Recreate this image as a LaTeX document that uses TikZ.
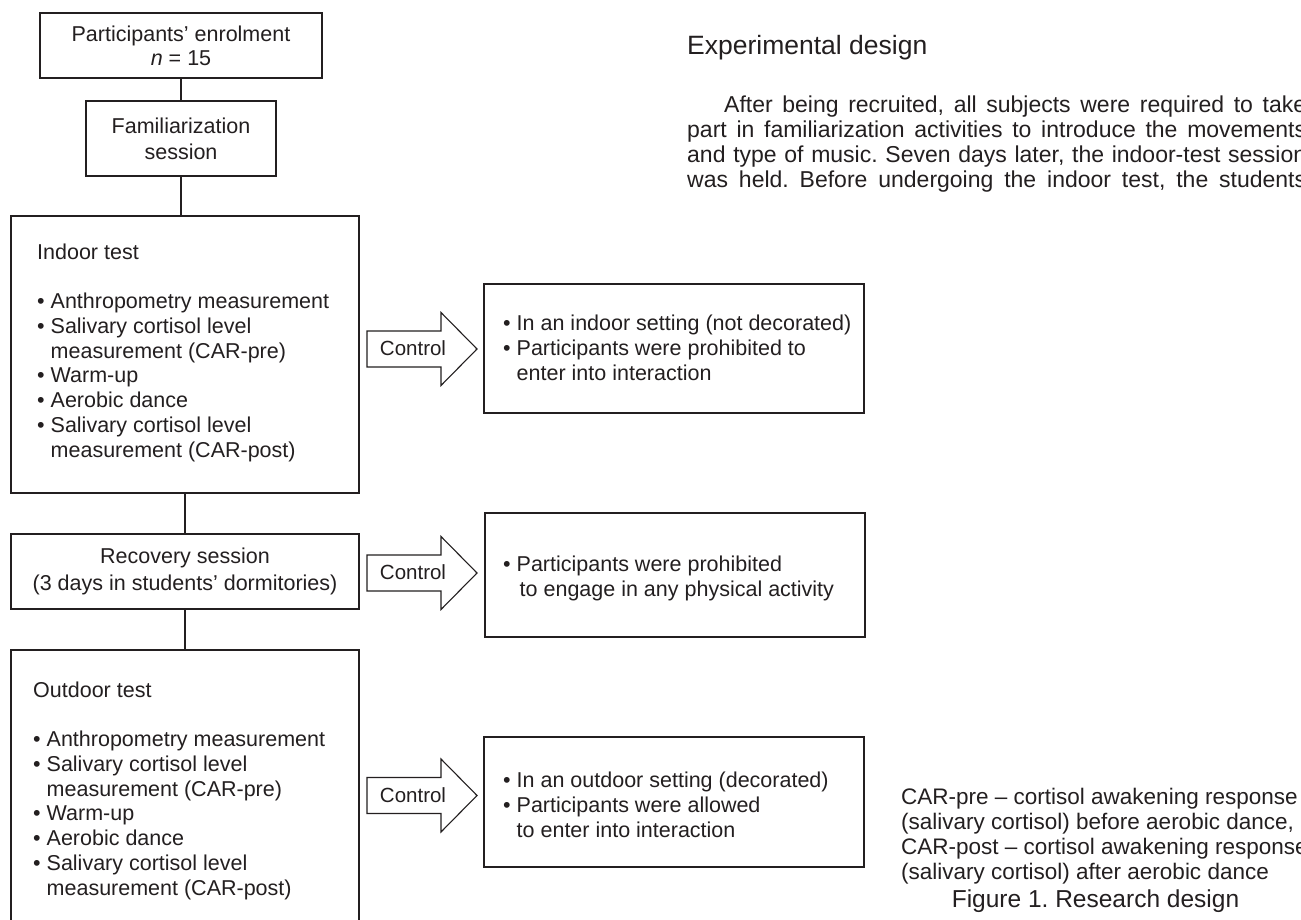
\documentclass[tikz,border=0pt]{standalone}
\usepackage{fontspec}
\setmainfont{Liberation Sans}
\definecolor{ink}{RGB}{35,31,32}
\newcommand\fsz[2]{\fontsize{#1pt}{#2pt}\selectfont}
\newcommand\indt{\hphantom{•\ }}
\newcommand\ctrlarrow[2]{%
  \coordinate (#1) at (367,#2);
  \draw[arrowline] (#1) ++(0,-18) -- ++(74,0) -- ++(0,-18.5) -- ++(36,36.5)
     -- ++(-36,36.5) -- ++(0,-18.5) -- ++(-74,0) -- cycle;
  \node[ctrltxt, anchor=base] (#1t) at (413,#2+6.5) {Control};
}
\tikzset{
  box/.style={draw=ink, line width=1.6pt, rectangle, inner sep=0pt, fill=none},
  conn/.style={draw=ink, line width=2.6pt},
  arrowline/.style={draw=ink, line width=1.1pt, line join=miter},
  txt/.style={text=ink, inner sep=0pt, font=\fsz{21.5}{24.75}},
  ctrltxt/.style={text=ink, inner sep=0pt, font=\fsz{20.5}{24}},
}
\frenchspacing
\begin{document}
\frenchspacing
\begin{tikzpicture}[x=1pt,y=-1pt]
\useasboundingbox (0,0) rectangle (1301,920);
\clip (0,0) rectangle (1301,920);
\fill[white] (0,0) rectangle (1301,920);

% left column boxes
\node[box, txt, align=center, minimum width=282pt, minimum height=65pt,
      font=\fsz{21.5}{24}] (enrol) at (181,45.5)
      {Participants’ enrolment\\\textit{n} = 15};
\node[box, txt, align=center, minimum width=190pt, minimum height=75pt,
      font=\fsz{21.5}{26}] (fam) at (181,138.5)
      {Familiarization\\session};
\node[box, minimum width=348pt, minimum height=277pt] (indoor) at (185,354.5) {};
\node[box, txt, align=center, minimum width=348pt, minimum height=75pt,
      font=\fsz{21.5}{27.5}] (recov) at (185,571.5)
      {Recovery session\\(3 days in students’ dormitories)};
\node[box, minimum width=348pt, minimum height=285pt] (outdoor) at (185,792.5) {};

% (multi-line nodes: base anchor = baseline of last line)
\node[txt, anchor=base west, align=left] (indoortxt) at (37,457)
  {Indoor test\\[24.75pt]• Anthropometry measurement\\• Salivary cortisol level\\\indt measurement (CAR-pre)\\• Warm-up\\• Aerobic dance\\• Salivary cortisol level\\\indt measurement (CAR-post)};
\node[txt, anchor=base west, align=left] (outdoortxt) at (33,895)
  {Outdoor test\\[24.75pt]• Anthropometry measurement\\• Salivary cortisol level\\\indt measurement (CAR-pre)\\• Warm-up\\• Aerobic dance\\• Salivary cortisol level\\\indt measurement (CAR-post)};

% connectors
\draw[conn] (enrol.south) -- (enrol.south |- fam.north);
\draw[conn] (fam.south) -- (fam.south |- indoor.north);
\draw[conn] (indoor.south) -- (recov.north);
\draw[conn] (recov.south) -- (outdoor.north);

% control arrows
\ctrlarrow{ca}{349}
\ctrlarrow{cb}{573}
\ctrlarrow{cc}{795.5}

% right boxes
\node[box, minimum width=380pt, minimum height=129pt] (ctrlA) at (674,348.5) {};
\node[txt, anchor=base west, align=left] (ctrlAtxt) at (503,380)
  {• In an indoor setting (not decorated)\\• Participants were prohibited to\\\indt enter into interaction};
\node[box, minimum width=380pt, minimum height=124pt] (ctrlB) at (675,575) {};
\node[txt, anchor=base west, align=left] (ctrlBtxt) at (503,596)
  {• Participants were prohibited\\\indt\hspace{3pt}to engage in any physical activity};
\node[box, minimum width=380pt, minimum height=130pt] (ctrlC) at (674,802) {};
\node[txt, anchor=base west, align=left] (ctrlCtxt) at (503,837)
  {• In an outdoor setting (decorated)\\• Participants were allowed\\\indt to enter into interaction};

% article text
\node[txt, anchor=base west, font=\fsz{26.5}{30}] (heading) at (687,55) {Experimental design};
\node[txt, anchor=base west, align=left, font=\fsz{23}{25}] (para) at (687,188)
  {\hspace{37pt}\makebox[582pt][s]{After being recruited, all subjects were required to take}\\
   \makebox[619pt][s]{part in familiarization activities to introduce the movements}\\
   \makebox[619pt][s]{and type of music. Seven days later, the indoor-test session}\\
   \makebox[619pt][s]{was held. Before undergoing the indoor test, the students}};

% legend and caption
\node[txt, anchor=base west, align=left, font=\fsz{22.5}{25}] (legend) at (901,879)
  {CAR-pre – cortisol awakening response\\(salivary cortisol) before aerobic dance,\\CAR-post – cortisol awakening response\\(salivary cortisol) after aerobic dance};
\node[txt, anchor=base, font=\fsz{24.5}{28}] (caption) at (1095.5,907) {Figure 1. Research design};
\end{tikzpicture}
\end{document}
